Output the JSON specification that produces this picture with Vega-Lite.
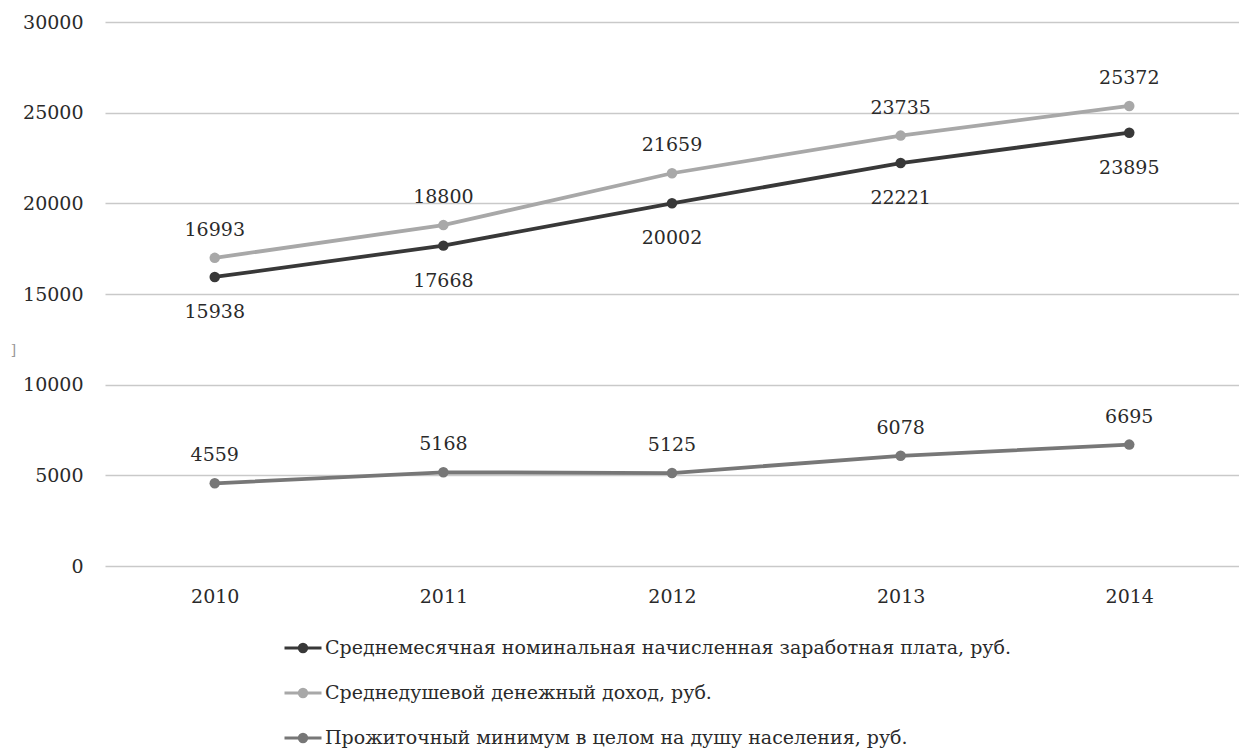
{
  "$schema": "https://vega.github.io/schema/vega-lite/v6.json",
  "autosize": "none",
  "width": 1134,
  "height": 544,
  "padding": {"left": 105, "top": 22, "right": 0, "bottom": 185},
  "background": "white",
  "config": {
    "view": {"stroke": null},
    "font": "DejaVu Serif",
    "axis": {"labelFont": "DejaVu Serif", "labelFontSize": 19, "labelColor": "#2a2a2a"},
    "legend": {"labelFont": "DejaVu Serif", "labelFontSize": 19, "labelColor": "#2a2a2a", "labelLimit": 0}
  },
  "data": {
    "values": [
      {"year": "2010", "series": "Среднемесячная номинальная начисленная заработная плата, руб.", "value": 15938},
      {"year": "2011", "series": "Среднемесячная номинальная начисленная заработная плата, руб.", "value": 17668},
      {"year": "2012", "series": "Среднемесячная номинальная начисленная заработная плата, руб.", "value": 20002},
      {"year": "2013", "series": "Среднемесячная номинальная начисленная заработная плата, руб.", "value": 22221},
      {"year": "2014", "series": "Среднемесячная номинальная начисленная заработная плата, руб.", "value": 23895},
      {"year": "2010", "series": "Среднедушевой денежный доход, руб.", "value": 16993},
      {"year": "2011", "series": "Среднедушевой денежный доход, руб.", "value": 18800},
      {"year": "2012", "series": "Среднедушевой денежный доход, руб.", "value": 21659},
      {"year": "2013", "series": "Среднедушевой денежный доход, руб.", "value": 23735},
      {"year": "2014", "series": "Среднедушевой денежный доход, руб.", "value": 25372},
      {"year": "2010", "series": "Прожиточный минимум в целом на душу населения, руб.", "value": 4559},
      {"year": "2011", "series": "Прожиточный минимум в целом на душу населения, руб.", "value": 5168},
      {"year": "2012", "series": "Прожиточный минимум в целом на душу населения, руб.", "value": 5125},
      {"year": "2013", "series": "Прожиточный минимум в целом на душу населения, руб.", "value": 6078},
      {"year": "2014", "series": "Прожиточный минимум в целом на душу населения, руб.", "value": 6695}
    ]
  },
  "encoding": {
    "x": {
      "field": "year", "type": "ordinal",
      "scale": {"type": "point", "padding": 0.48},
      "axis": {"title": null, "labelAngle": 0, "domain": false, "ticks": false, "labelPadding": 21, "grid": false}
    },
    "y": {
      "field": "value", "type": "quantitative",
      "scale": {"domain": [0, 30000], "nice": false},
      "axis": {
        "title": "]", "titleAngle": 0, "titleX": -92, "titleY": 335, "titleFontSize": 14, "titleFontWeight": "normal", "titleColor": "#9a9a9a", "titleFont": "DejaVu Serif",
        "format": "d", "values": [0, 5000, 10000, 15000, 20000, 25000, 30000], "domain": false, "ticks": false, "labelPadding": 22, "gridColor": "#c9c9c9", "gridWidth": 1.5
      }
    }
  },
  "layer": [
    {
      "mark": {"type": "line", "strokeWidth": 3.8},
      "encoding": {
        "color": {
          "field": "series", "type": "nominal",
          "scale": {
            "domain": ["Среднемесячная номинальная начисленная заработная плата, руб.", "Среднедушевой денежный доход, руб.", "Прожиточный минимум в целом на душу населения, руб."],
            "range": ["#383838", "#a8a8a8", "#777777"]
          },
          "legend": {
            "title": null,
            "orient": "none",
            "legendX": 178,
            "legendY": 606,
            "direction": "vertical",
            "padding": 0,
            "symbolType": "M-1,0H1M0.2,0A0.2,0.2 0 1 1 -0.2,0A0.2,0.2 0 1 1 0.2,0",
            "symbolSize": 1369,
            "symbolStrokeWidth": 3,
            "labelOffset": 2,
            "rowPadding": 15,
            "encode": {
              "symbols": {"update": {"fill": {"scale": "color", "field": "value"}, "stroke": {"scale": "color", "field": "value"}, "opacity": {"value": 1}}}
            }
          }
        }
      }
    },
    {
      "mark": {"type": "point", "filled": true, "size": 110, "opacity": 1},
      "encoding": {"color": {"field": "series", "type": "nominal", "legend": null}}
    },
    {
      "transform": [{"filter": "datum.series !== 'Среднемесячная номинальная начисленная заработная плата, руб.'"}],
      "mark": {"type": "text", "dy": -28, "fontSize": 19, "color": "#2a2a2a", "baseline": "middle"},
      "encoding": {"text": {"field": "value", "type": "quantitative", "format": "d"}}
    },
    {
      "transform": [{"filter": "datum.series === 'Среднемесячная номинальная начисленная заработная плата, руб.'"}],
      "mark": {"type": "text", "dy": 35, "fontSize": 19, "color": "#2a2a2a", "baseline": "middle"},
      "encoding": {"text": {"field": "value", "type": "quantitative", "format": "d"}}
    }
  ]
}
